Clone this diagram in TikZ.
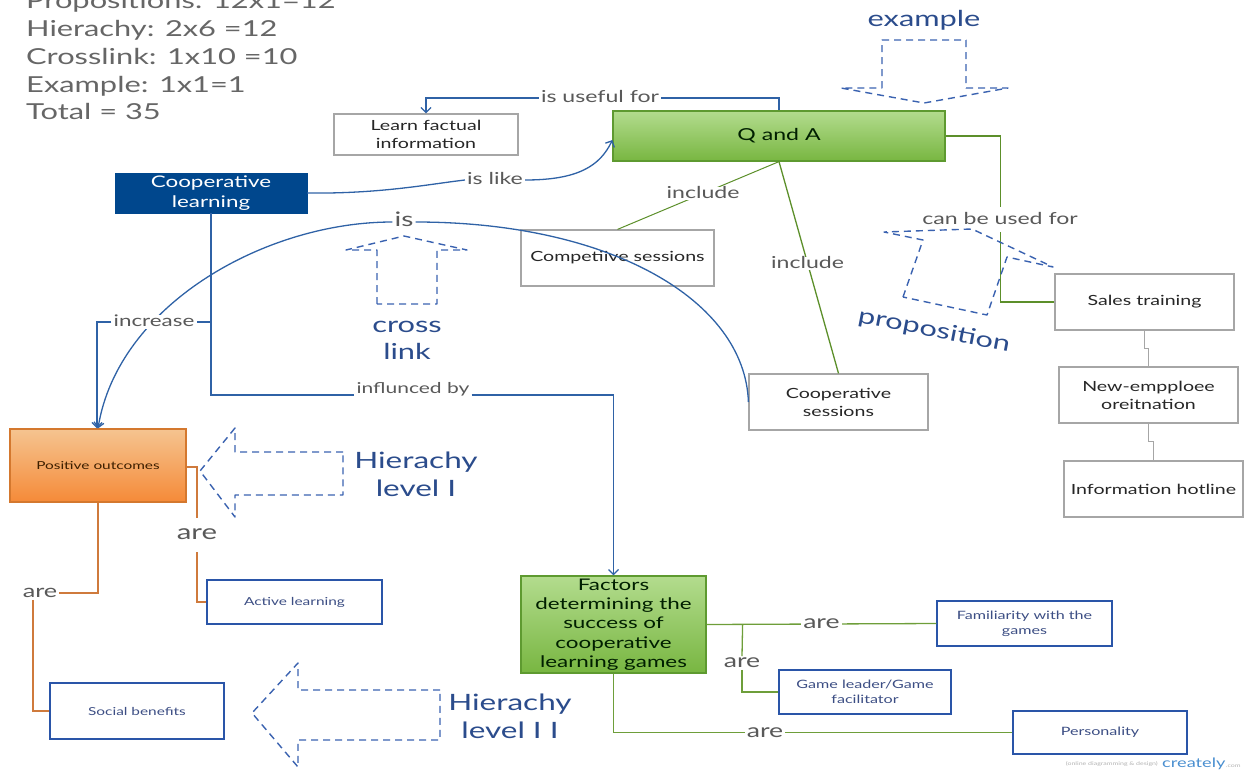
\documentclass[tikz,border=0pt]{standalone}
\usepackage{fontspec}
\setmainfont{Lato}[FakeStretch=1.4]
\usetikzlibrary{arrows.meta}
\newcommand{\fsz}[2]{\fontsize{#1}{#2}\selectfont}
\definecolor{cblue}{HTML}{2F62A6}
\definecolor{navy}{HTML}{00478D}
\definecolor{cgreen}{HTML}{5C8F2A}
\definecolor{lgreen}{HTML}{6E9E3A}
\definecolor{corange}{HTML}{CF7A3C}
\definecolor{bbord}{HTML}{2A55A8}
\definecolor{btext}{HTML}{3C4E84}
\definecolor{lblgray}{HTML}{595959}
\definecolor{annblue}{HTML}{2B4C8C}
\definecolor{dblue}{HTML}{3A62B0}
\definecolor{gtop}{HTML}{B3DC8E}
\definecolor{gbot}{HTML}{78B641}
\definecolor{gbord}{HTML}{5E9A30}
\definecolor{otop}{HTML}{F5C490}
\definecolor{obot}{HTML}{F58A38}
\definecolor{obord}{HTML}{D4782E}
\definecolor{scoregray}{HTML}{666666}
\definecolor{logoblue}{HTML}{4A8FD0}
\begin{document}
\begin{tikzpicture}[x=1pt,y=-1pt,
  box/.style={draw=gray!70, line width=1.2pt, fill=white, align=center, inner sep=2pt, text=black!85, font=\fsz{14}{18}},
  gbox/.style={draw=gbord, line width=1.2pt, top color=gtop, bottom color=gbot, align=center, inner sep=1pt, text=black!70!green!40!black},
  obox/.style={draw=obord, line width=1.2pt, top color=otop, bottom color=obot, align=center, inner sep=1pt, text=black!60!orange!60!black, font=\fsz{11}{13}},
  bbox/.style={draw=bbord, line width=1.4pt, fill=white, align=center, inner sep=2pt, text=btext, font=\fsz{11.5}{15}},
  lbl/.style={fill=white, inner sep=2pt, text=lblgray, text height=0.95em, text depth=0em},
  bline/.style={draw=cblue, line width=1.3pt},
  gline/.style={draw=cgreen, line width=1.3pt},
  oline/.style={draw=corange, line width=1.3pt},
  grline/.style={draw=gray!70, line width=1.2pt},
  tip/.style={-{Straight Barb[length=5pt,width=10pt]}},
  dasharrow/.style={draw=dblue, line width=1.4pt, dash pattern=on 7pt off 5pt, line join=round},
  ann/.style={text=annblue, font=\fsz{22}{27}, align=center},
  score/.style={text=scoregray, font=\fsz{22}{28}, anchor=base west, inner sep=0pt}]
\useasboundingbox (0,0) rectangle (1247,769);

% scoring summary
\node[score] (s1) at (26,8) {Propositions: 12x1=12};
\node[score] (s2) at (26,36) {Hierachy: 2x6 =12};
\node[score] (s3) at (26,64) {Crosslink: 1x10 =10};
\node[score] (s4) at (26,92) {Example: 1x1=1};
\node[score] (s5) at (26,119) {Total = 35};

% concepts
\node[box, minimum width=184pt, minimum height=41pt] (learn) at (426,134.5) {Learn factual\\information};
\node[gbox, minimum width=332pt, minimum height=50pt, font=\fsz{16.5}{19}] (qa) at (779,136) {Q and A};
\node[draw=navy, fill=navy, text=white, align=center, inner sep=1pt, minimum width=192pt, minimum height=40pt, font=\fsz{16}{20}] (coop) at (211,193) {Cooperative\\learning};
\node[box, minimum width=193pt, minimum height=56pt] (comp) at (617.5,258) {Competiive sessions};
\node[box, minimum width=179pt, minimum height=56pt] (coopses) at (838.5,402) {Cooperative\\sessions};
\node[box, minimum width=179pt, minimum height=56pt] (sales) at (1144.5,302) {Sales training};
\node[box, minimum width=179pt, minimum height=56pt] (newemp) at (1148.5,395) {New-empploee\\oreitnation};
\node[box, minimum width=179pt, minimum height=56pt] (hotline) at (1153.5,489) {Information hotline};
\node[obox, minimum width=176pt, minimum height=73pt] (pos) at (98,465.5) {Positive outcomes};
\node[bbox, minimum width=175pt, minimum height=44pt, font=\fsz{11}{14}] (active) at (294.5,602) {Active learning};
\node[bbox, minimum width=174pt, minimum height=56pt, font=\fsz{11}{14}] (social) at (137,711) {Social benefits};
\node[gbox, minimum width=185pt, minimum height=97pt, font=\fsz{16}{19.3}] (factors) at (613.5,624.5) {Factors\\determining the\\success of\\cooperative\\learning games};
\node[bbox, minimum width=175pt, minimum height=45pt] (famil) at (1024.5,623.5) {Familiarity with the\\games};
\node[bbox, minimum width=172pt, minimum height=44pt] (leader) at (865,692) {Game leader/Game\\facilitator};
\node[bbox, minimum width=174pt, minimum height=43pt] (person) at (1100,732.5) {Personality};

% blue links from Cooperative learning / Q and A
\node[lbl, font=\fsz{16.5}{19}] (luse) at (600,98) {is useful for};
\draw[bline] (qa.north) |- (luse.east);
\draw[bline, tip] (luse.west) -| (learn.north);

\node[lbl, font=\fsz{16.5}{19}] (llike) at (495,180) {is like};
\draw[bline] (coop.east) .. controls (380,194) and (430,184) .. (llike.west);
\draw[bline, tip] (llike.east) .. controls (578,180) and (600,166) .. ([yshift=-4pt]qa.west);

\node[lbl, font=\fsz{20}{22}] (lis) at (404,222) {is};
\draw[bline, tip] (lis.west) .. controls (265,222) and (118,305) .. (pos.north);
\draw[bline] (lis.east) .. controls (610,222) and (745,300) .. (coopses.west);

\node[lbl, font=\fsz{16}{18}] (linc) at (154,322) {increase};
\draw[bline] (coop.south) |- (linc.east);
\draw[bline, tip] (linc.west) -| ([xshift=-1pt]pos.north);

\node[lbl, font=\fsz{15}{17}] (linf) at (413,389) {influnced by};
\draw[bline] (coop.south) |- ([yshift=-6pt]linf.west);
\draw[bline, tip] ([yshift=-6pt]linf.east) -| (factors.north);

% green links from Q and A
\draw[gline, line width=1pt] (qa.south) -- node[lbl, pos=0.47, font=\fsz{16.5}{19}] (linc1) {include} (comp.north);
\draw[gline] (qa.south) -- node[lbl, pos=0.48, font=\fsz{16.5}{19}] (linc2) {include} (coopses.north);
\draw[gline] (qa.east) -- ++(55,0) |- (sales.west);
\node[lbl, font=\fsz{16.5}{19}, minimum height=25pt] (lcan) at (1000,219.5) {can be used for};

% grey chain on the right
\draw[grline] (sales.south) -- ++(0,18) -| (newemp.north);
\draw[grline] (newemp.south) -- ++(0,18) -| (hotline.north);

% orange links from Positive outcomes
\node[lbl, font=\fsz{21}{24}, minimum height=34pt] (lare1) at (197,535) {are};
\draw[oline] ([yshift=-1.5pt]pos.east) -| (lare1.north);
\draw[oline] (lare1.south) |- (active.west);
\node[lbl, font=\fsz{18}{20}] (lare2) at (40,593) {are};
\draw[oline] (pos.south) |- (lare2.east);
\draw[oline] ([xshift=-7pt]lare2.south) |- (social.west);

% green links from Factors
\draw[gline, draw=lgreen] (factors.east) -- node[lbl, pos=0.5, font=\fsz{19}{21}] (lare3) {are} (famil.west);
\coordinate (fork) at ([xshift=36pt]factors.east);
\node[lbl, font=\fsz{19}{21}] (lare4) at (742,663) {are};
\draw[gline, draw=lgreen] (fork) -- (lare4.north);
\draw[gline, draw=lgreen] (lare4.south) |- (leader.west);
\draw[gline, draw=lgreen] (factors.south) |- node[lbl, pos=0.69, font=\fsz{19}{21}] (lare5) {are} (person.west);

% dashed block arrows with their captions
\draw[dasharrow] (882,88) -- (882,40) -- (966,40) -- (966,88) -- (1008,88) -- (924,103) -- (841,88) -- cycle;
\node[ann] (tex) at (924,20) {example};

\draw[dasharrow] (377,304) -- (377,250) -- (346,250) -- (404,236) -- (467,250) -- (437,250) -- (437,304) -- cycle;
\node[ann] (tcl) at (407,340) {cross\\link};

\draw[dasharrow] (903,297) -- (923,240) -- (884,232) -- (972,229) -- (1053,267) -- (1007,257) -- (987,315) -- cycle;
\node[ann, rotate=-11] (tprop) at (934,331) {proposition};

\draw[dasharrow] (343,452) -- (235,452) -- (235,428) -- (200,471) -- (235,517) -- (235,495) -- (343,495) -- cycle;
\node[ann, font=\fsz{22.5}{28}] (th1) at (416,474) {Hierachy\\level I};

\draw[dasharrow] (440,690) -- (298,690) -- (298,663) -- (252,713) -- (298,767) -- (298,740) -- (440,740) -- cycle;
\node[ann, font=\fsz{22.5}{28}] (th2) at (510,716) {Hierachy\\level I I};

% footer mark
\node[font=\fsz{5}{6}, text=gray!60, anchor=east, inner sep=0pt] (cr1) at (1158,764) {(online diagramming \& design)};
\node[font=\fsz{13}{14}, text=logoblue, anchor=base west, inner sep=0pt] (cr2) at (1162,767) {creately};
\node[font=\fsz{5}{6}, text=gray!60, anchor=base west, inner sep=0pt] (cr3) at (cr2.base east) {.com};
\end{tikzpicture}
\end{document}
